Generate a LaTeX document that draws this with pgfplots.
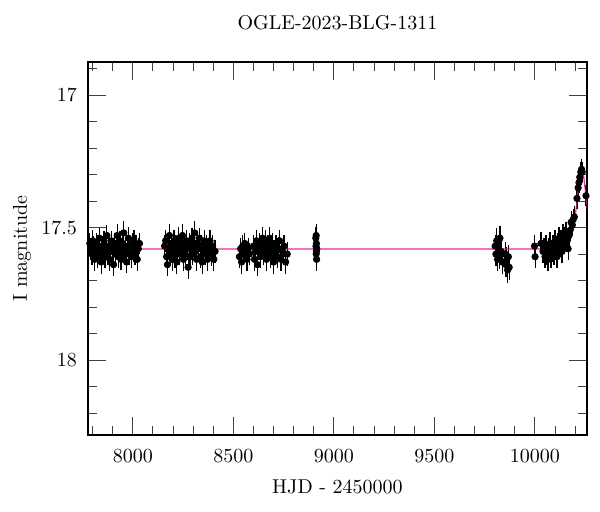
\documentclass[border=0pt]{standalone}
\usepackage{pgfplots}
\usepackage{pgfplotstable}
\pgfplotsset{compat=1.18}

\pgfplotstableread{
x y e
7786 17.56 0.025
7792 17.58 0.027
7797 17.60 0.028
7801 17.55 0.026
7806 17.57 0.025
7810 17.62 0.029
7815 17.59 0.027
7820 17.56 0.026
7824 17.61 0.028
7829 17.58 0.027
7834 17.54 0.025
7838 17.60 0.028
7843 17.63 0.030
7848 17.57 0.026
7852 17.59 0.027
7857 17.55 0.025
7862 17.61 0.028
7866 17.58 0.026
7871 17.53 0.027
7876 17.60 0.028
7880 17.57 0.026
7885 17.62 0.029
7890 17.59 0.027
7894 17.55 0.025
7899 17.58 0.027
7904 17.64 0.031
7908 17.56 0.026
7913 17.60 0.028
7918 17.57 0.026
7922 17.53 0.028
7927 17.61 0.029
7932 17.58 0.027
7936 17.55 0.025
7941 17.62 0.028
7946 17.59 0.027
7950 17.56 0.026
7955 17.52 0.030
7960 17.60 0.028
7964 17.58 0.027
7969 17.63 0.029
7974 17.57 0.026
7978 17.54 0.027
7983 17.60 0.028
7988 17.58 0.027
7992 17.61 0.029
7997 17.56 0.026
8002 17.59 0.028
8006 17.55 0.027
8011 17.60 0.029
8016 17.57 0.027
8022 17.62 0.030
8027 17.58 0.028
8033 17.56 0.027
8158 17.57 0.028
8163 17.55 0.027
8168 17.61 0.029
8172 17.64 0.031
8177 17.58 0.027
8182 17.53 0.030
8186 17.60 0.028
8191 17.56 0.026
8196 17.62 0.029
8200 17.59 0.027
8205 17.55 0.026
8210 17.61 0.028
8214 17.57 0.027
8219 17.63 0.030
8224 17.58 0.027
8228 17.54 0.027
8233 17.60 0.028
8238 17.56 0.026
8242 17.59 0.027
8247 17.53 0.029
8252 17.62 0.029
8256 17.57 0.027
8261 17.60 0.028
8266 17.55 0.026
8270 17.58 0.027
8275 17.65 0.031
8280 17.56 0.027
8284 17.61 0.028
8289 17.58 0.027
8294 17.54 0.026
8298 17.60 0.028
8303 17.57 0.027
8308 17.52 0.030
8312 17.59 0.028
8317 17.62 0.029
8322 17.56 0.027
8326 17.58 0.028
8331 17.54 0.026
8336 17.61 0.029
8340 17.57 0.027
8345 17.63 0.030
8350 17.59 0.028
8355 17.55 0.027
8360 17.60 0.029
8366 17.57 0.028
8372 17.62 0.030
8378 17.58 0.028
8384 17.55 0.029
8390 17.60 0.030
8397 17.57 0.029
8403 17.62 0.031
8409 17.59 0.030
8530 17.61 0.029
8536 17.58 0.028
8541 17.63 0.030
8546 17.57 0.028
8551 17.60 0.029
8557 17.56 0.027
8562 17.59 0.028
8568 17.62 0.029
8574 17.58 0.028
8580 17.60 0.029
8600 17.57 0.028
8605 17.62 0.030
8610 17.59 0.028
8615 17.55 0.027
8620 17.64 0.031
8625 17.58 0.028
8630 17.56 0.027
8635 17.61 0.029
8640 17.57 0.028
8645 17.54 0.028
8650 17.60 0.029
8655 17.58 0.028
8660 17.55 0.027
8665 17.62 0.030
8670 17.57 0.028
8675 17.59 0.028
8680 17.54 0.029
8685 17.61 0.029
8690 17.58 0.028
8695 17.56 0.027
8700 17.63 0.030
8706 17.59 0.028
8712 17.57 0.029
8718 17.61 0.030
8724 17.58 0.029
8730 17.55 0.028
8737 17.62 0.031
8744 17.59 0.030
8752 17.57 0.029
8760 17.63 0.032
8768 17.60 0.031
8910 17.54 0.029
8911 17.57 0.028
8912 17.60 0.030
8913 17.56 0.028
8914 17.62 0.031
8915 17.58 0.029
8912 17.53 0.028
8913 17.59 0.029
9802 17.57 0.030
9806 17.60 0.031
9810 17.55 0.035
9814 17.62 0.032
9818 17.58 0.030
9822 17.61 0.031
9826 17.54 0.033
9832 17.59 0.030
9837 17.63 0.032
9852 17.60 0.031
9856 17.64 0.033
9860 17.62 0.032
9864 17.66 0.034
9868 17.61 0.031
9872 17.65 0.033
9998 17.57 0.028
10001 17.61 0.029
10030 17.56 0.028
10040 17.59 0.029
10045 17.58 0.028
10050 17.61 0.029
10055 17.57 0.028
10060 17.60 0.029
10065 17.62 0.030
10070 17.58 0.028
10075 17.56 0.028
10080 17.61 0.029
10085 17.59 0.028
10090 17.57 0.027
10095 17.60 0.028
10100 17.55 0.028
10105 17.58 0.028
10110 17.61 0.029
10115 17.56 0.027
10120 17.54 0.028
10125 17.57 0.028
10130 17.55 0.027
10135 17.59 0.029
10140 17.53 0.028
10145 17.56 0.027
10150 17.54 0.028
10155 17.52 0.027
10160 17.55 0.028
10165 17.58 0.029
10170 17.53 0.027
10175 17.51 0.028
10180 17.48 0.028
10186 17.49 0.028
10190 17.47 0.027
10196 17.46 0.028
10209 17.39 0.025
10215 17.35 0.025
10219 17.33 0.025
10223 17.31 0.024
10228 17.29 0.024
10232 17.28 0.024
10235 17.29 0.025
10254 17.38 0.026
}\obsdata

\pgfplotstableread{
x y
7700 17.581
10000 17.581
10050 17.580
10100 17.577
10120 17.575
10140 17.570
10160 17.558
10175 17.539
10190 17.502
10200 17.458
10210 17.398
10218 17.341
10225 17.299
10233 17.279
10241 17.299
10248 17.341
10256 17.398
10266 17.458
10280 17.510
}\modeldata

\begin{document}
\begin{tikzpicture}
\useasboundingbox (-44pt,-38.5pt) rectangle (256pt,217.5pt);
\begin{axis}[
  scale only axis,
  width=249.5pt, height=186.5pt,
  xmin=7777, xmax=10259,
  ymin=16.875, ymax=18.283,
  y dir=reverse,
  scaled x ticks=false,
  xtick={8000,8500,9000,9500,10000},
  minor xtick={7800,7900,8100,8200,8300,8400,8600,8700,8800,8900,9100,9200,9300,9400,9600,9700,9800,9900,10100,10200},
  ytick={17,17.5,18},
  minor ytick={16.9,17.1,17.2,17.3,17.4,17.6,17.7,17.8,17.9,18.1,18.2},
  tick align=inside,
  major tick length=9pt,
  minor tick length=4.5pt,
  tick style={line width=0.5pt, black!75},
  axis line style={line width=0.6pt, black},
  xticklabel style={/pgf/number format/1000 sep={}, /pgf/number format/fixed, yshift=-4pt},
  yticklabel style={xshift=-2pt},
  title={OGLE-2023-BLG-1311},
  title style={at={(0.5,1)}, anchor=base, yshift=10pt},
  xlabel={HJD - 2450000},
  xlabel style={at={(0.5,0)}, anchor=base, yshift=-29.5pt},
  ylabel={I magnitude},
  ylabel style={at={(axis description cs:-0.1323,0.5)}, anchor=center},
  clip=true,
]
\addplot[only marks, mark=*, mark size=1.6pt, black,
  error bars/.cd, y dir=both, y explicit,
  error bar style={line width=0.6pt, black},
  error mark options={mark size=1.8pt, line width=0.6pt, black}]
  table[x=x, y=y, y error=e] {\obsdata};
\addplot[magenta, line width=0.6pt, opacity=0.85] table[x=x, y=y] {\modeldata};
\end{axis}
\end{tikzpicture}
\end{document}
